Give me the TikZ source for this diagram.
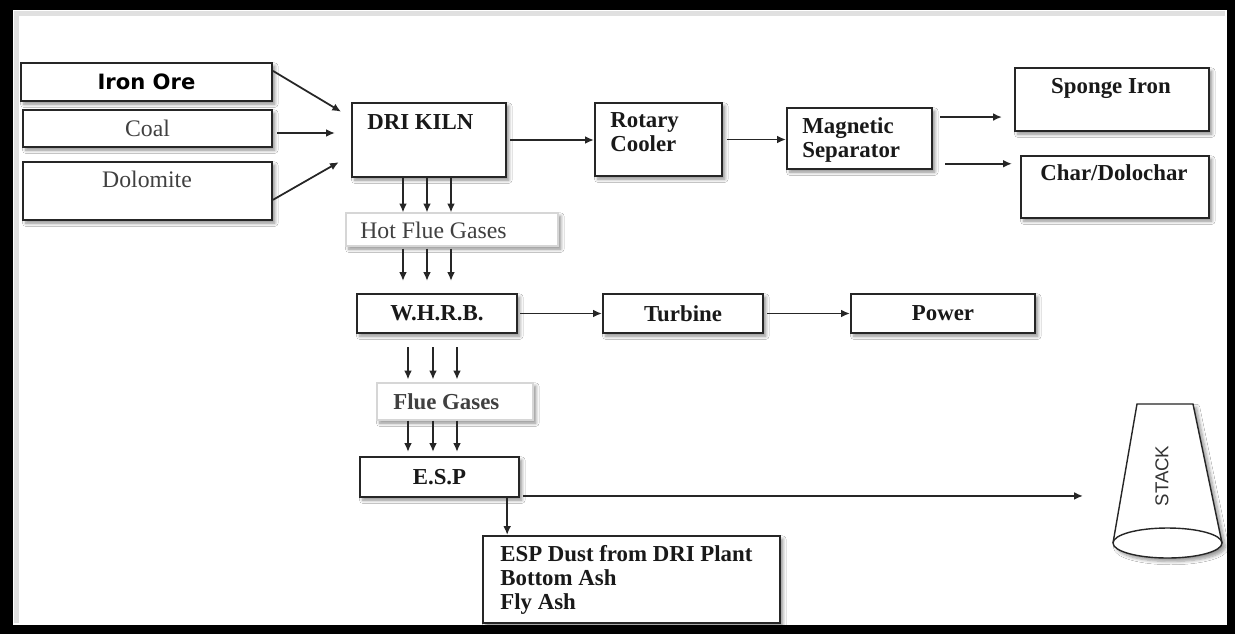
\documentclass[tikz,border=0pt]{standalone}
\usepackage{fontspec}
\setmainfont{Liberation Serif}
\newfontfamily\orefont{DejaVu Sans}
\newfontfamily\stackfont{Liberation Sans}
\usepackage{tikz}
\usetikzlibrary{arrows.meta, calc, positioning, shadows.blur}

\definecolor{inkgray}{HTML}{404040}
\definecolor{gasedge}{HTML}{D6D6D6}

\tikzset{
  box/.style={draw=black!85, line width=1.2pt, fill=white, inner sep=0pt,
    blur shadow={shadow xshift=1.6pt, shadow yshift=-1.8pt, shadow blur steps=6, shadow opacity=45}},
  gasbox/.style={box, draw=gasedge, line width=0.6pt},
  lbl/.style={inner sep=0pt, font=\fontsize{13}{13.6}\selectfont\bfseries, text=black!90},
  glbl/.style={inner sep=0pt, font=\fontsize{13.5}{14}\selectfont, text=inkgray},
  arr/.style={draw=black!85, line width=1pt, -{Latex[length=5pt, width=4.4pt]}},
}

\begin{document}
\begin{tikzpicture}[x=0.2mm, y=-0.2mm]
    \useasboundingbox (0,0) rectangle (1235,634);
    % frame
    \fill[black] (0,0) rectangle (1235,634);
    \fill[white] (13,10) rectangle (1227,625);
    \draw[black!12, line width=1mm] (16,623) -- (16,13) -- (1225,13);

    % raw materials
    \node[box, minimum width=50.2mm, minimum height=7.6mm,
          font=\orefont\bfseries\fontsize{12}{12}\selectfont] (ore) at (146.5,82) {Iron Ore};
    \node[box, glbl, minimum width=49.8mm, minimum height=7.4mm] (coal) at (147.5,128.5) {Coal};
    \node[box, minimum width=49.8mm, minimum height=11.6mm] (dolo) at (147.5,191) {};
    \node[glbl, anchor=base] (dolo-t) at (147,187) {Dolomite};

    % kiln line
    \node[box, minimum width=30.8mm, minimum height=14.8mm] (kiln) at (429,140) {};
    \node[lbl, anchor=base west] (kiln-t) at (367,129) {DRI KILN};
    \node[box, minimum width=25.4mm, minimum height=14.6mm] (cooler) at (658.5,139.5) {};
    \node[lbl, anchor=north west, align=left] (cooler-t) at (610,112) {Rotary\\Cooler};
    \node[box, minimum width=29mm, minimum height=12.2mm] (ms) at (859.5,138.5) {};
    \node[lbl, anchor=north west, align=left] (ms-t) at (802,117) {Magnetic\\Separator};
    \node[box, minimum width=38.8mm, minimum height=12.6mm] (sponge) at (1112,99.5) {};
    \node[lbl, anchor=base] (sponge-t) at (1111,93) {Sponge Iron};
    \node[box, minimum width=37.6mm, minimum height=12.4mm] (char) at (1115,187) {};
    \node[lbl, anchor=base] (char-t) at (1114,180) {Char/Dolochar};

    % gas line
    \node[gasbox, minimum width=42.4mm, minimum height=6.6mm] (hfg) at (452,229.5) {};
    \node[glbl, anchor=base west] (hfg-t) at (360,238) {Hot Flue Gases};
    \node[box, lbl, minimum width=32mm, minimum height=7.8mm] (whrb) at (437,313.5) {W.H.R.B.};
    \node[box, lbl, minimum width=32mm, minimum height=7.8mm] (turb) at (683,313.5) {Turbine};
    \node[box, lbl, minimum width=36.8mm, minimum height=7.8mm] (power) at (943,313.5) {Power};
    \node[gasbox, minimum width=31.2mm, minimum height=7.4mm] (fg) at (455,401.5) {};
    \node[glbl, font=\fontsize{13}{14}\selectfont\bfseries, anchor=base west] (fg-t) at (393,409) {Flue Gases};
    \node[box, lbl, minimum width=31.8mm, minimum height=8mm] (esp) at (439.5,477) {E.S.P};
    \node[box, minimum width=59.4mm, minimum height=17.4mm] (dust) at (631.5,579.5) {};
    \node[lbl, anchor=north west, align=left] (dust-t) at (500,545)
        {ESP Dust from DRI Plant\\Bottom Ash\\Fly Ash};

    % stack
    \path[fill=white, blur shadow={shadow xshift=2pt, shadow yshift=-2pt, shadow blur steps=6, shadow opacity=40}]
        (1113,543) -- (1137,404) -- (1193,404) -- (1222,543)
        arc[start angle=0, end angle=180, x radius=54.5, y radius=15] -- cycle;
    \draw[black!85, line width=0.8pt] (1113,543) -- (1137,404) -- (1193,404) -- (1222,543);
    \draw[black!85, line width=0.8pt] (1167.5,543) ellipse[x radius=54.5, y radius=15];
    \node[font=\stackfont\fontsize{10.6}{11}\selectfont, text=black!80, rotate=90, inner sep=0pt] (stack) at (1162,476) {STACK};
    \coordinate (stackin) at (1083,495);

    % connectors
    \draw[arr, shorten >=2.3mm] (ore.5) -- (kiln.164);
    \draw[arr, shorten <=0.8mm, shorten >=3.2mm] ([yshift=-0.9mm]coal.east) -- ([yshift=-0.9mm]coal.east -| kiln.west);
    \draw[arr, shorten >=2.8mm] (dolo.-4) -- (kiln.191);
    \draw[arr, shorten <=0.6mm] (kiln.east) -- (kiln.east -| cooler.west);
    \draw[arr, shorten <=0.8mm] (cooler.east) -- (cooler.east -| ms.west);
    \draw[arr, shorten <=1.4mm, shorten >=2.4mm] ($(ms.north east)!.16!(ms.south east)$) coordinate (m1) -- (m1 -| sponge.west);
    \draw[arr, shorten <=2.4mm, shorten >=1.6mm] ($(ms.north east)!.9!(ms.south east)$) coordinate (m2) -- (m2 -| char.west);

    \foreach \dx in {-5.2,-0.4,4.4} {
        \draw[arr] ([xshift=\dx mm]kiln.south) -- ([xshift=\dx mm]kiln.south |- hfg.north);
        \draw[arr, shorten <=0.4mm, shorten >=2.4mm] ([xshift=\dx mm]kiln.south |- hfg.south) -- ([xshift=\dx mm]kiln.south |- whrb.north);
    }
    \draw[arr, shorten <=0.4mm] (whrb.east) -- (turb.west);
    \draw[arr, shorten <=0.6mm] (turb.east) -- (power.west);
    \foreach \dx in {-5.8,-0.8,4.0} {
        \draw[arr, shorten <=2.6mm, shorten >=0.6mm] ([xshift=\dx mm]whrb.south) -- ([xshift=\dx mm]whrb.south |- fg.north);
        \draw[arr, shorten >=0.8mm] ([xshift=\dx mm]whrb.south |- fg.south) -- ([xshift=\dx mm]whrb.south |- esp.north);
    }
    \draw[arr, shorten <=0.6mm] ($(esp.north east)!.95!(esp.south east)$) coordinate (e1) -- (e1 -| stackin);
    \draw[arr] ($(esp.south west)!.92!(esp.south east)$) coordinate (e2) -- (e2 |- dust.north);
\end{tikzpicture}
\end{document}
